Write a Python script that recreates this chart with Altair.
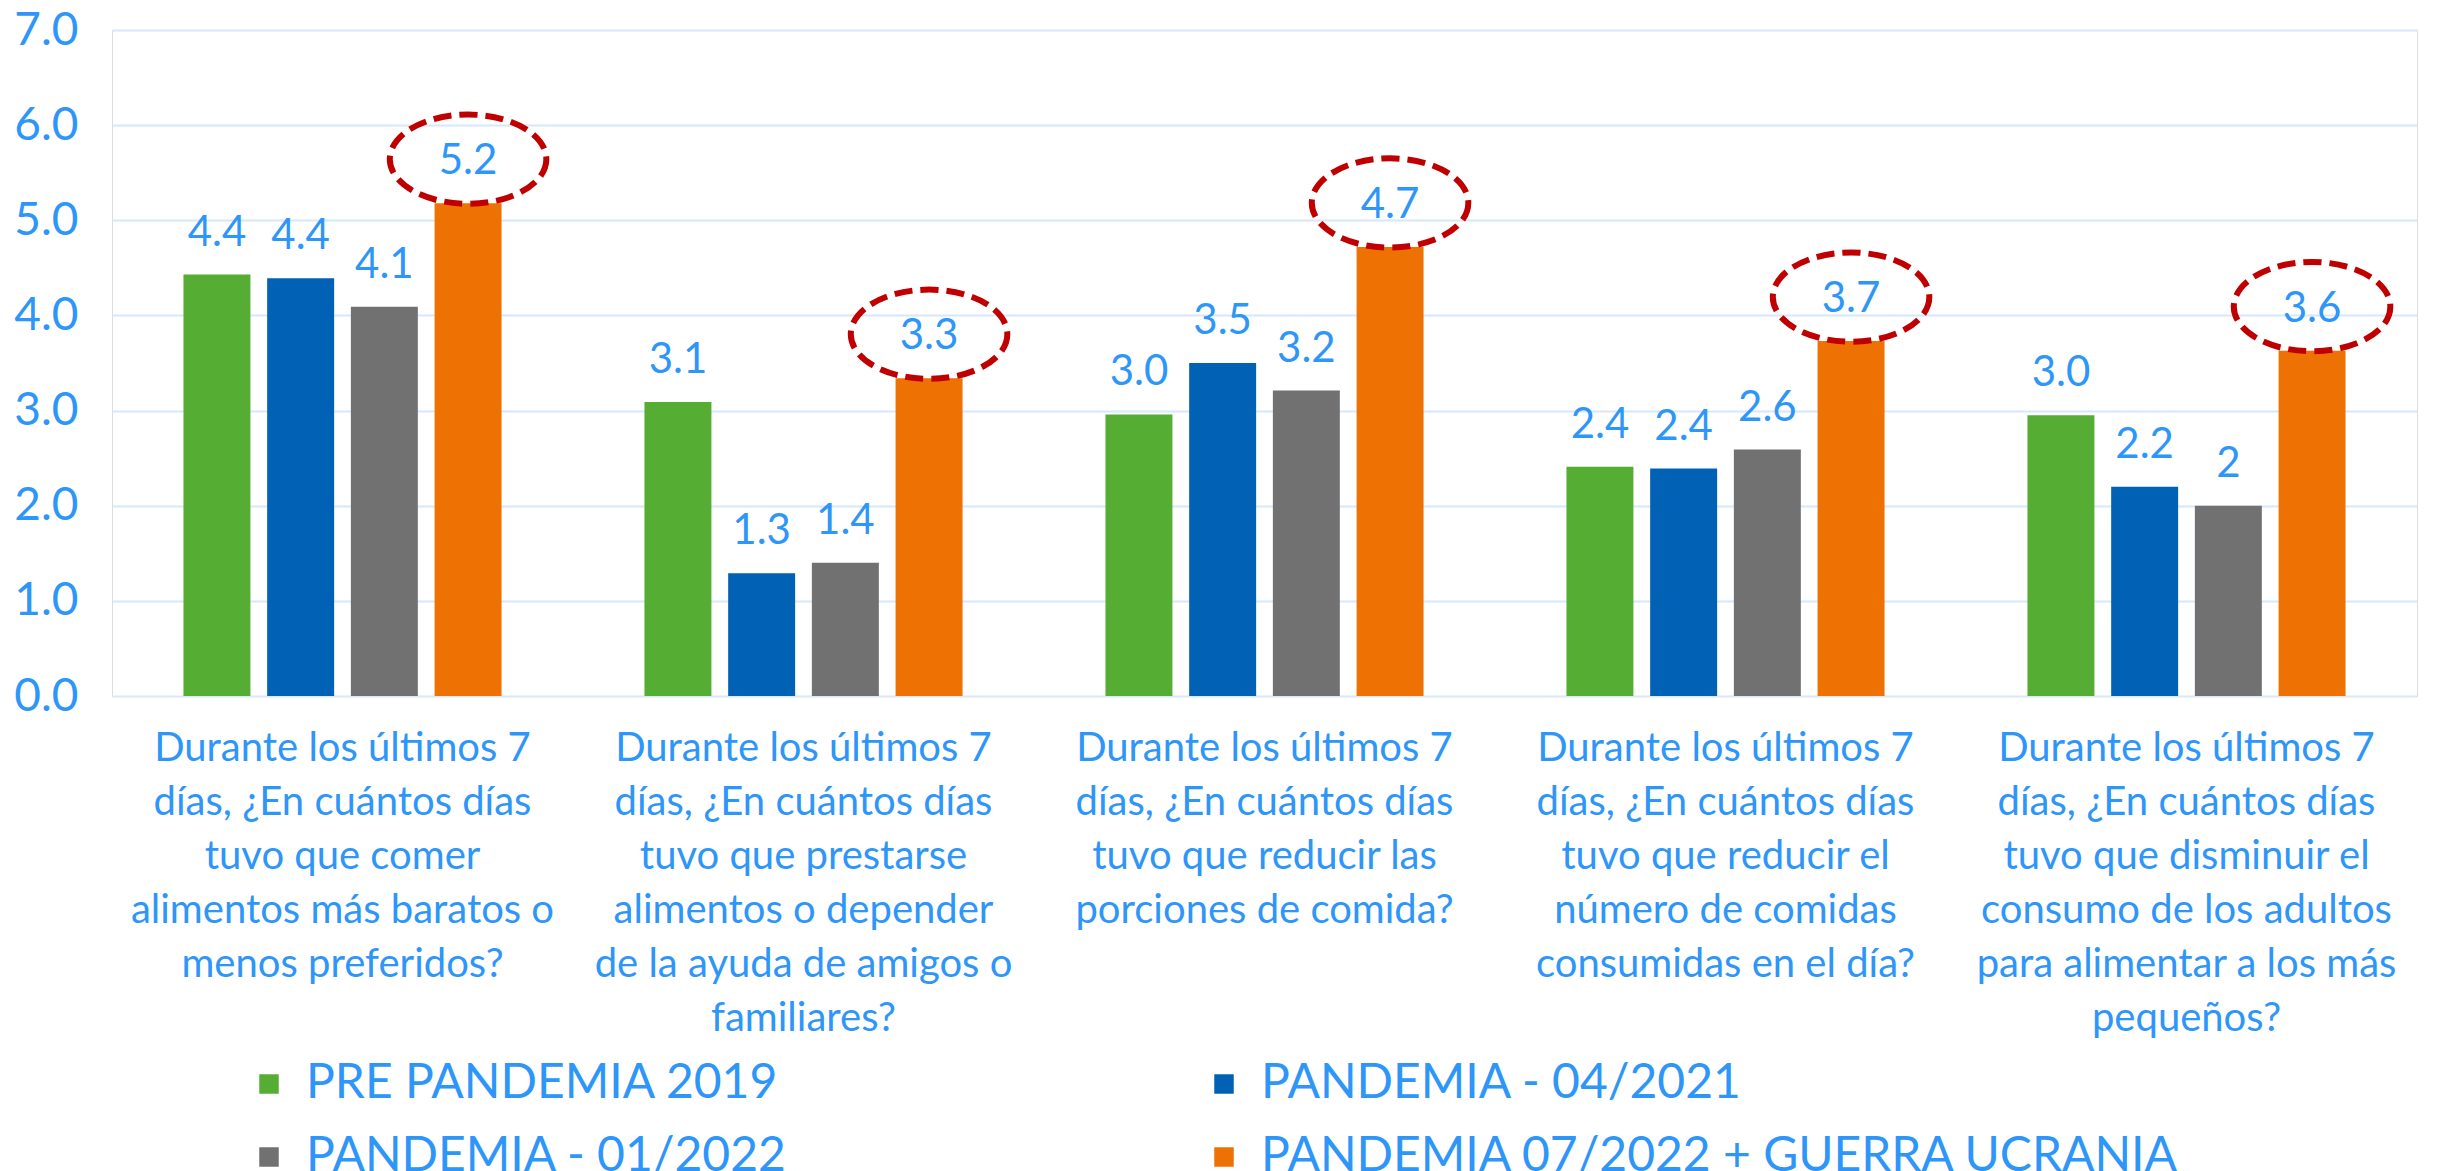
import altair as alt
import pandas as pd

categories = [
    "Durante los últimos 7|días, ¿En cuántos días|tuvo que comer|alimentos más baratos o|menos preferidos?",
    "Durante los últimos 7|días, ¿En cuántos días|tuvo que prestarse|alimentos o depender|de la ayuda de amigos o|familiares?",
    "Durante los últimos 7|días, ¿En cuántos días|tuvo que reducir las|porciones de comida?",
    "Durante los últimos 7|días, ¿En cuántos días|tuvo que reducir el|número de comidas|consumidas en el día?",
    "Durante los últimos 7|días, ¿En cuántos días|tuvo que disminuir el|consumo de los adultos|para alimentar a los más|pequeños?",
]
series = [
    "PRE PANDEMIA 2019",
    "PANDEMIA - 04/2021",
    "PANDEMIA - 01/2022",
    "PANDEMIA 07/2022 + GUERRA UCRANIA",
]
colors = ["#55AE33", "#0061B5", "#717171", "#EE7203"]

pre_2019 = [4.43, 3.09, 2.96, 2.41, 2.95]
pan_2021 = [4.39, 1.29, 3.50, 2.39, 2.20]
pan_2022 = [4.09, 1.40, 3.21, 2.59, 2.00]
pan_guerra = [5.18, 3.34, 4.72, 3.73, 3.63]

lbl_2019 = ["4.4", "3.1", "3.0", "2.4", "3.0"]
lbl_2021 = ["4.4", "1.3", "3.5", "2.4", "2.2"]
lbl_2022 = ["4.1", "1.4", "3.2", "2.6", "2"]
lbl_guerra = ["5.2", "3.3", "4.7", "3.7", "3.6"]

values = [pre_2019, pan_2021, pan_2022, pan_guerra]
labels = [lbl_2019, lbl_2021, lbl_2022, lbl_guerra]

rows = []
for si, s in enumerate(series):
    for ci, c in enumerate(categories):
        rows.append({"cat": c, "serie": s, "v": values[si][ci], "lbl": labels[si][ci]})
df = pd.DataFrame(rows)

TXT = "#2E96F8"
FONT = "Lato"

x_enc = alt.X(
    "cat:N",
    sort=categories,
    scale=alt.Scale(paddingInner=0.31, paddingOuter=0.155),
    axis=alt.Axis(
        title=None,
        labelExpr="split(datum.label, '|')",
        labelAngle=0,
        labelAlign="center",
        labelBaseline="top",
        labelFontSize=40,
        labelLineHeight=54,
        labelColor=TXT,
        labelPadding=32,
        labelLimit=0,
        labelFont=FONT,
        domain=False,
        ticks=False,
        grid=False,
    ),
)
xo_enc = alt.XOffset("serie:N", sort=series, scale=alt.Scale(paddingInner=0.2, paddingOuter=0))
y_enc = alt.Y(
    "v:Q",
    scale=alt.Scale(domain=[0, 7], nice=False),
    axis=alt.Axis(
        title=None,
        values=[0, 1, 2, 3, 4, 5, 6, 7],
        format=".1f",
        labelFontSize=46,
        labelColor=TXT,
        labelPadding=34,
        labelFont=FONT,
        domain=False,
        ticks=False,
        grid=True,
        gridColor="#D6E8FA",
        gridWidth=2,
    ),
)

base = alt.Chart(df)

bars = base.mark_bar().encode(
    x=x_enc,
    xOffset=xo_enc,
    y=y_enc,
    color=alt.Color(
        "serie:N",
        sort=series,
        scale=alt.Scale(domain=series, range=colors),
        legend=alt.Legend(
            title=None,
            orient="none",
            legendX=133,
            legendY=1030,
            columns=2,
            direction="horizontal",
            symbolType="square",
            symbolSize=380,
            symbolStrokeWidth=0,
            labelFontSize=48,
            labelFont=FONT,
            labelColor=TXT,
            labelOffset=13,
            labelLimit=0,
            columnPadding=412,
            rowPadding=25,
            padding=0,
        ),
    ),
)

text = base.mark_text(
    baseline="bottom", dy=-20, fontSize=42, font=FONT, color=TXT
).encode(
    x=alt.X("cat:N", sort=categories),
    xOffset=alt.XOffset("serie:N", sort=series),
    y=alt.Y("v:Q"),
    text="lbl:N",
)

k = 0.5523
ry = 0.57
ellipse_path = (
    f"M 1 0 C 1 {k*ry:.4f} {k} {ry} 0 {ry} "
    f"C {-k} {ry} -1 {k*ry:.4f} -1 0 "
    f"C -1 {-k*ry:.4f} {-k} {-ry} 0 {-ry} "
    f"C {k} {-ry} 1 {-k*ry:.4f} 1 0 Z"
)

ellipses = base.transform_filter(
    alt.datum.serie == series[3]
).mark_point(
    shape=ellipse_path,
    size=24500,
    filled=False,
    stroke="#C00000",
    strokeWidth=6,
    strokeDash=[18, 8],
    opacity=1,
    yOffset=-44,
).encode(
    x=alt.X("cat:N", sort=categories),
    xOffset=alt.XOffset("serie:N", sort=series),
    y=alt.Y("v:Q"),
)

chart = (
    alt.layer(bars, text, ellipses)
    .properties(
        width=2305,
        height=666,
        autosize=alt.AutoSizeParams(type="none"),
        padding={"left": 104, "top": 22, "right": 15, "bottom": 475},
    )
    .configure_view(stroke=None)
    .configure(font=FONT)
)

chart.save("out.html", embed_options={"renderer": "svg", "actions": False})
